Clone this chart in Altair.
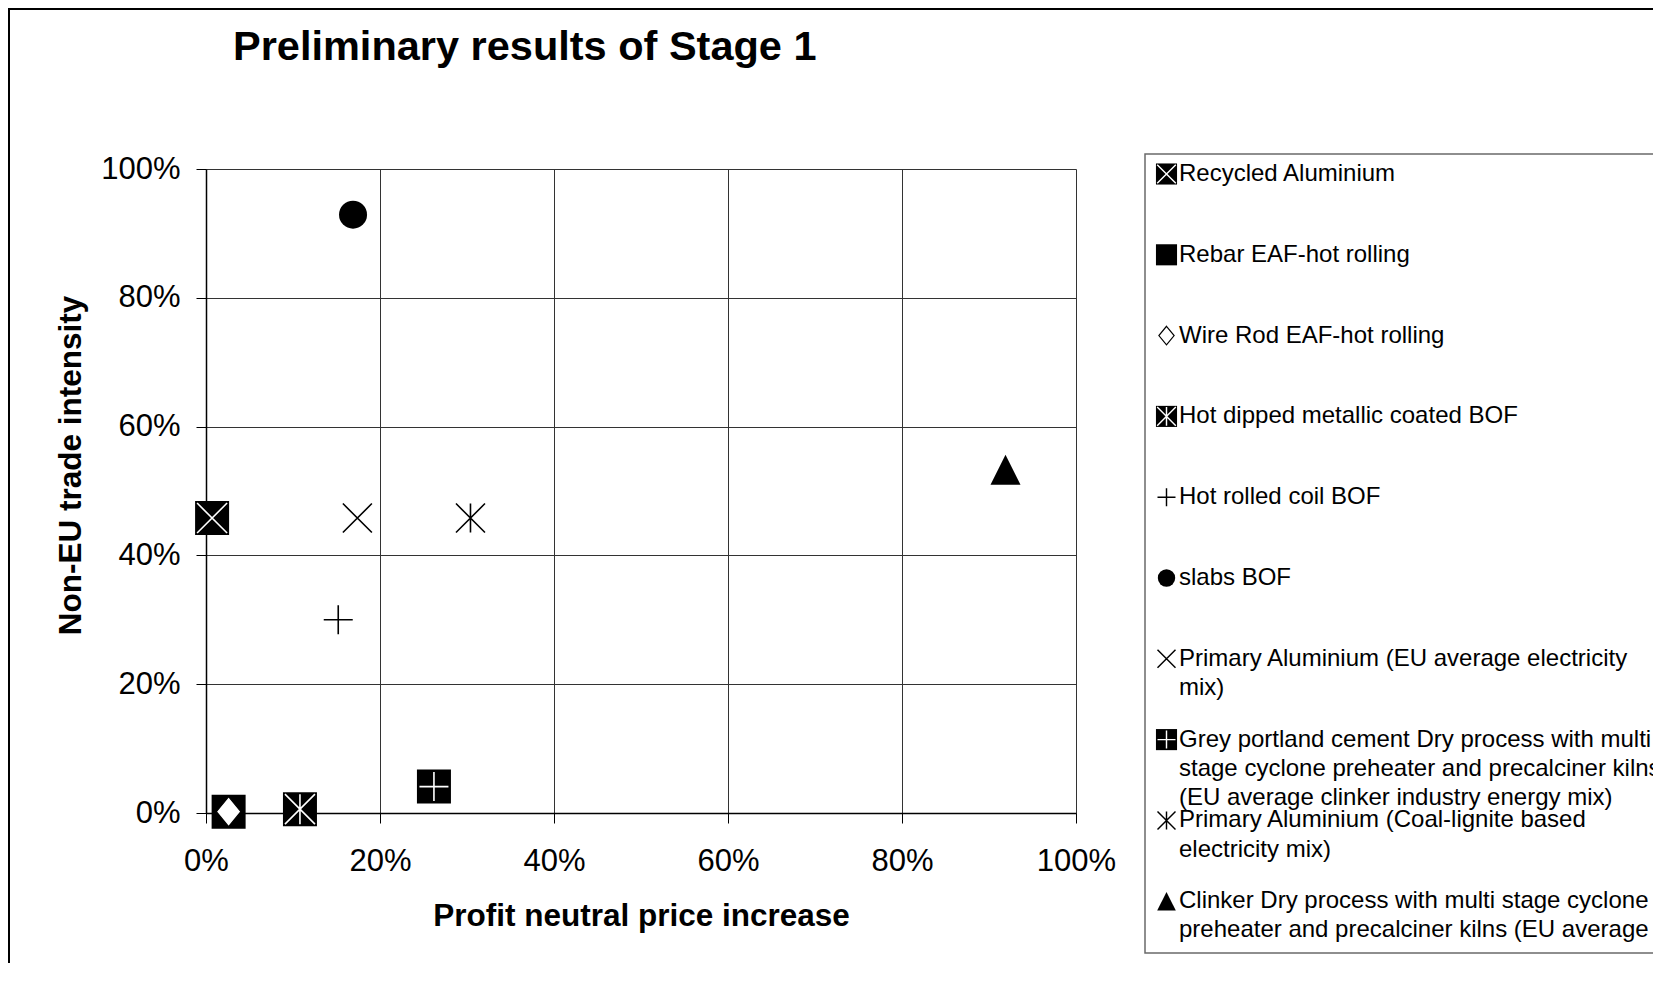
import altair as alt
import pandas as pd

# ---------------- data ----------------
series = [
    "Recycled Aluminium",
    "Rebar EAF-hot rolling",
    "Wire Rod EAF-hot rolling",
    "Hot dipped metallic coated BOF",
    "Hot rolled coil BOF",
    "slabs  BOF",
    "Primary Aluminium  (EU average electricity mix)",
    "Grey portland cement Dry process with multi stage cyclone preheater and precalciner kilns (EU average clinker industry energy mix)",
    "Primary Aluminium  (Coal-lignite based electricity mix)",
    "Clinker Dry process with multi stage cyclone preheater and precalciner kilns (EU average clinker industry energy mix)",
]
price_increase = [0.007, 0.026, 0.026, 0.108, 0.152, 0.169, 0.174, 0.262, 0.304, 0.919]
trade_intensity = [0.458, 0.002, 0.002, 0.006, 0.300, 0.929, 0.458, 0.041, 0.458, 0.533]

x_ticks = [0.0, 0.2, 0.4, 0.6, 0.8, 1.0]
y_ticks = [0.0, 0.2, 0.4, 0.6, 0.8, 1.0]

legend_lines = [
    ["Recycled Aluminium"],
    ["Rebar EAF-hot rolling"],
    ["Wire Rod EAF-hot rolling"],
    ["Hot dipped metallic coated BOF"],
    ["Hot rolled coil BOF"],
    ["slabs  BOF"],
    ["Primary Aluminium  (EU average electricity", "mix)"],
    ["Grey portland   cement Dry process with multi",
     "stage cyclone preheater and precalciner kilns",
     "(EU average clinker industry energy mix)"],
    ["Primary Aluminium  (Coal-lignite based", "electricity mix)"],
    ["Clinker Dry process with multi stage cyclone",
     "preheater and precalciner kilns (EU average"],
]

title_text = "Preliminary results of Stage 1"
x_title = "Profit neutral price increase"
y_title = "Non-EU trade intensity"

# ---------------- styles ----------------
FONT = "Liberation Sans"
W, H = 870, 644

SQ = "square"
CIRC = "circle"
P_X = "M-1,-1L1,1M-1,1L1,-1"
P_PLUS = "M-1,0L1,0M0,-1L0,1"
P_AST = "M-1,-1L1,1M-1,1L1,-1M0,-1L0,1"
P_DIAM = "M0,-1L0.82,0L0,1L-0.82,0Z"
P_TRI = "M0,-1L1,1L-1,1Z"

# (shape, filled, colour, size, strokeWidth)
glyphs = [
    [(SQ, True, "black", 1156, 0), (P_X, False, "white", 900, 1.6)],
    [(SQ, True, "black", 1156, 0)],
    [(P_DIAM, True, "white", 900, 1.3)],
    [(SQ, True, "black", 1156, 0), (P_AST, False, "white", 900, 1.6)],
    [(P_PLUS, False, "black", 841, 1.6)],
    [(CIRC, True, "black", 784, 0)],
    [(P_X, False, "black", 841, 1.6)],
    [(SQ, True, "black", 1156, 0), (P_PLUS, False, "white", 841, 1.6)],
    [(P_AST, False, "black", 841, 1.6)],
    [(P_TRI, True, "black", 900, 0)],
]
LEG_SCALE = 0.385  # legend glyph area relative to plot glyph area


def point_mark(shape, filled, color, size, sw):
    if filled:
        stroke = "black" if shape == P_DIAM else color
        return dict(shape=shape, filled=True, fill=color, stroke=stroke,
                    strokeWidth=sw, size=size, opacity=1)
    return dict(shape=shape, filled=False, color=color, strokeWidth=sw,
                size=size, opacity=1)


# ---------------- plot ----------------
df = pd.DataFrame({"idx": list(range(len(series))), "series": series,
                   "price": price_increase, "trade": trade_intensity})

x_enc = alt.X(
    "price:Q",
    scale=alt.Scale(domain=[0, 1], nice=False, zero=False),
    axis=alt.Axis(
        values=x_ticks, format=".0%", title=x_title,
        titleFont=FONT, titleFontSize=31.5, titleFontWeight="bold", titleColor="black",
        titleX=W / 2, titleY=112, titleBaseline="alphabetic", titleAlign="center",
        labelFont=FONT, labelFontSize=31, labelColor="black", labelPadding=23,
        labelFlush=False, labelOverlap=False,
        tickSize=10, tickColor="black", tickWidth=1,
        domainColor="black", domainWidth=1.5,
        grid=True, gridColor="#333333", gridWidth=1,
    ),
)
y_enc = alt.Y(
    "trade:Q",
    scale=alt.Scale(domain=[0, 1], nice=False, zero=False),
    axis=alt.Axis(
        values=y_ticks, format=".0%", title=y_title,
        titleFont=FONT, titleFontSize=31.5, titleFontWeight="bold", titleColor="black",
        titleX=-126, titleY=296, titleAngle=270, titleBaseline="alphabetic",
        titleAlign="center",
        labelFont=FONT, labelFontSize=31, labelColor="black", labelPadding=16,
        labelFlush=False, labelOverlap=False,
        tickSize=10, tickColor="black", tickWidth=1,
        domainColor="black", domainWidth=1.5,
        grid=True, gridColor="#333333", gridWidth=1,
    ),
)

base = alt.Chart(df).encode(x=x_enc, y=y_enc)
plot_layers = []
for i, gl in enumerate(glyphs):
    for g in gl:
        plot_layers.append(
            base.transform_filter(alt.datum.idx == i).mark_point(**point_mark(*g))
        )
plot = alt.layer(*plot_layers)

# ---------------- legend (own scales: px from plot left, legend rows) ----------------
ROW_STEP_PX = 80.8          # spacing between entries
ROW0_PX = 5.0               # first entry centre below plot top
LINE_STEP = 29.1 / ROW_STEP_PX
LEG_SYMBOL_X = 960.5
LEG_TEXT_X = 973.0
row_top = -ROW0_PX / ROW_STEP_PX
row_bottom = (H - ROW0_PX) / ROW_STEP_PX

lx_scale = alt.Scale(domain=[0, W], nice=False, zero=False)
ly_scale = alt.Scale(domain=[row_bottom, row_top], nice=False, zero=False)

leg_sym = pd.DataFrame({"idx": list(range(len(series))),
                        "row": list(range(len(series))),
                        "lx": [LEG_SYMBOL_X] * len(series)})
txt_rows = []
for i, lines in enumerate(legend_lines):
    for k, t in enumerate(lines):
        txt_rows.append({"row": i + k * LINE_STEP, "lx": LEG_TEXT_X, "text": t})
leg_txt = pd.DataFrame(txt_rows)

box = pd.DataFrame({"lx": [939.0], "lx2": [1700.0],
                    "row": [(154 - 174) / ROW_STEP_PX],
                    "row2": [(953 - 174) / ROW_STEP_PX]})
frame = pd.DataFrame({"lx": [-197.0], "lx2": [2000.0],
                      "row": [(9 - 174) / ROW_STEP_PX],
                      "row2": [12.0]})

lx = alt.X("lx:Q", scale=lx_scale, axis=None)
ly = alt.Y("row:Q", scale=ly_scale, axis=None)

leg_layers = [
    alt.Chart(frame).mark_rect(fill="white", fillOpacity=0, stroke="black",
                               strokeWidth=2).encode(
        x=lx, x2="lx2:Q", y=ly, y2="row2:Q"),
    alt.Chart(box).mark_rect(fill="white", fillOpacity=0, stroke="#6a6a6a",
                             strokeWidth=1.5).encode(
        x=lx, x2="lx2:Q", y=ly, y2="row2:Q"),
]
leg_base = alt.Chart(leg_sym).encode(x=lx, y=ly)
for i, gl in enumerate(glyphs):
    for (shape, filled, color, size, sw) in gl:
        leg_layers.append(
            leg_base.transform_filter(alt.datum.idx == i).mark_point(
                **point_mark(shape, filled, color, size * LEG_SCALE, sw * 0.9 if sw else 0)
            )
        )
leg_layers.append(
    alt.Chart(leg_txt).mark_text(font=FONT, fontSize=24, color="black",
                                 align="left", baseline="middle").encode(
        x=lx, y=ly, text="text:N")
)
legend = alt.layer(*leg_layers)

chart = (
    alt.layer(plot, legend)
    .resolve_scale(x="independent", y="independent")
    .properties(
        width=W, height=H,
        autosize=alt.AutoSizeParams(type="none"),
        padding={"left": 198, "top": 161, "right": 577, "bottom": 150},
        title=alt.Title(title_text, font=FONT, fontSize=41.5, fontWeight="bold",
                        color="black", anchor="start", frame="group", dx=27,
                        offset=0, dy=93, baseline="alphabetic"),
    )
    .configure_view(stroke="black", strokeWidth=1)
    .configure(background="white")
)

chart.save("out.html", embed_options={"renderer": "svg", "actions": False})
